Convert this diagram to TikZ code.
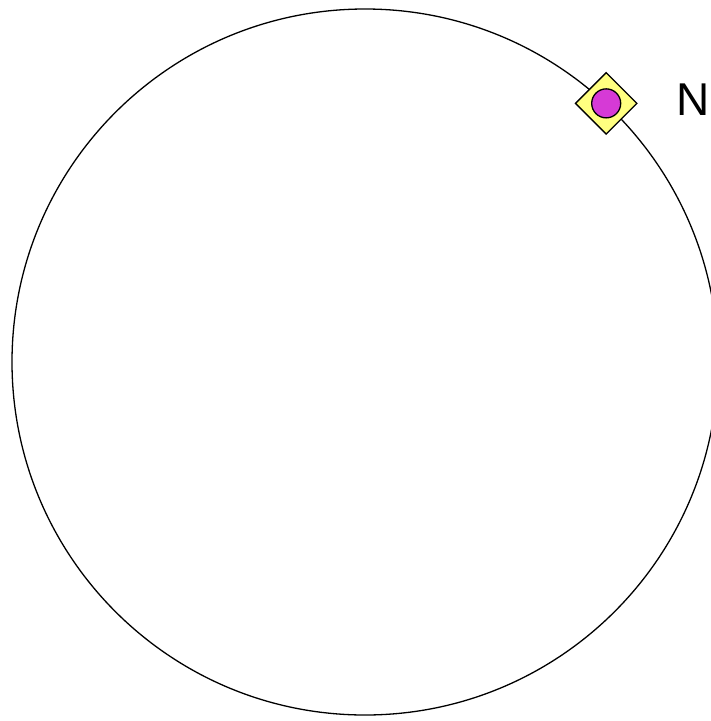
\documentclass[tikz,border=0pt]{standalone}
\usepackage{fontspec}
\setmainfont{Liberation Sans}
\usetikzlibrary{positioning,shapes.geometric}
\definecolor{markyellow}{RGB}{255,255,128}
\definecolor{markmagenta}{RGB}{214,58,214}

\begin{document}
\begin{tikzpicture}[x=1pt, y=-1pt,
    ring/.style={circle, draw, line width=1.3pt, minimum size=706pt, inner sep=0pt},
    marker/.style={diamond, draw, line width=1.3pt, fill=markyellow, minimum width=62pt, minimum height=62pt, inner sep=0pt},
    dot/.style={circle, draw, line width=1.3pt, fill=markmagenta, minimum size=29pt, inner sep=0pt}]

\useasboundingbox (0,0) rectangle (711,721);

\node[ring] (orbit) at (365,362) {};

\node[marker] (north) at (orbit.47.8) {};
\node[dot] (northdot) at (north.center) {};

\node[right=38pt of north, yshift=4pt, inner sep=0pt, font=\fontsize{46}{50}\selectfont] (northlabel) {N};

\end{tikzpicture}
\end{document}
